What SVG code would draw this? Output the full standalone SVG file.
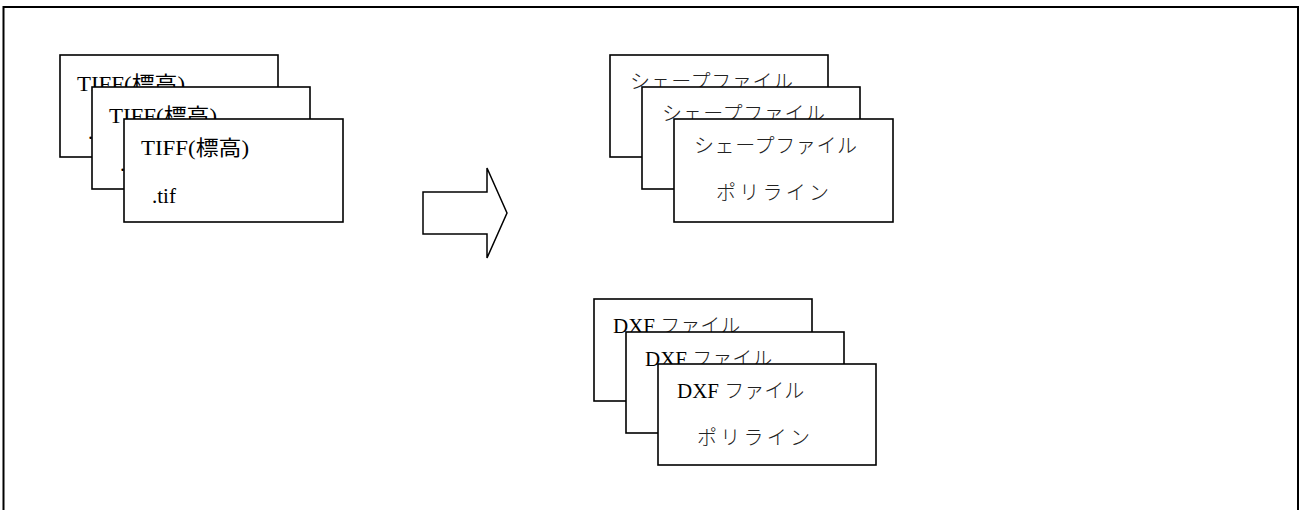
<svg xmlns="http://www.w3.org/2000/svg" width="1302" height="510" viewBox="0 0 1302 510">
<style>
.box{fill:#fff;stroke:#000;stroke-width:1.6}
.t{font-family:"Liberation Serif","Noto Sans CJK JP",serif;font-size:21px;fill:#000}
.j{font-family:"Noto Sans CJK JP","Liberation Serif",serif;font-size:20px;font-weight:300;fill:#222}
</style>
<rect width="1302" height="510" fill="#fff"/>
<path d="M3.5,515 V7 H1298 V515" fill="none" stroke="#000" stroke-width="2"/>
<g id="tiff1"><rect class="box" x="60" y="55" width="218" height="102"/><text class="t" x="77" y="91" textLength="108" lengthAdjust="spacingAndGlyphs">TIFF(標高)</text><text class="t" x="88" y="139">.tif</text></g>
<g id="tiff2"><rect class="box" x="92" y="87" width="218" height="102"/><text class="t" x="109" y="123" textLength="108" lengthAdjust="spacingAndGlyphs">TIFF(標高)</text><text class="t" x="120" y="171">.tif</text></g>
<g id="tiff3"><rect class="box" x="124" y="119" width="219" height="103"/><text class="t" x="141" y="155" textLength="108" lengthAdjust="spacingAndGlyphs">TIFF(標高)</text><text class="t" x="152" y="203">.tif</text></g>
<g id="shape1"><rect class="box" x="610" y="55" width="218" height="102"/><text class="j" x="630" y="153" dy="-64" textLength="163">シェープファイル</text><text class="j" x="652" y="136" textLength="113">ポリライン</text></g>
<g id="shape2"><rect class="box" x="642" y="87" width="218" height="102"/><text class="j" x="662" y="121" textLength="163">シェープファイル</text><text class="j" x="684" y="168" textLength="113">ポリライン</text></g>
<g id="shape3"><rect class="box" x="674" y="119" width="219" height="103"/><text class="j" x="694" y="153" textLength="163">シェープファイル</text><text class="j" x="716" y="200" textLength="113">ポリライン</text></g>
<g id="dxf1"><rect class="box" x="594" y="299" width="218" height="102"/><text class="t" x="613" y="333">DXF <tspan class="j">ファイル</tspan></text><text class="j" x="633" y="380" textLength="113">ポリライン</text></g>
<g id="dxf2"><rect class="box" x="626" y="332" width="218" height="101"/><text class="t" x="645" y="366">DXF <tspan class="j">ファイル</tspan></text><text class="j" x="665" y="413" textLength="113">ポリライン</text></g>
<g id="dxf3"><rect class="box" x="658" y="364" width="218" height="101"/><text class="t" x="677" y="398">DXF <tspan class="j">ファイル</tspan></text><text class="j" x="697" y="445" textLength="113">ポリライン</text></g>
<g id="connectors"><path d="M423,192 H487 V168 L507,213 L487,258 V234 H423 Z" fill="#fff" stroke="#000" stroke-width="1.5" stroke-linejoin="miter"/></g>
</svg>
